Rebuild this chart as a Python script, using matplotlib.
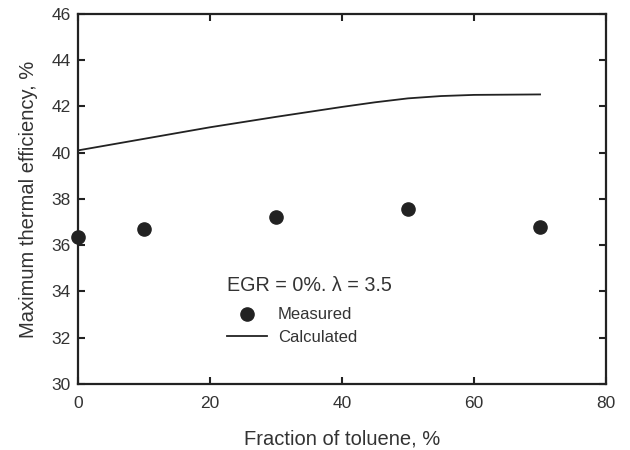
import matplotlib
matplotlib.use('Agg')
import matplotlib.pyplot as plt

plt.rcParams['font.family'] = ['Liberation Sans', 'DejaVu Sans']

# measured max thermal efficiency vs toluene fraction
toluene_meas = [0, 10, 30, 50, 70]
eff_meas = [36.35, 36.7, 37.22, 37.57, 36.8]

# calculated curve
toluene_calc = [0, 10, 20, 30, 40, 45, 50, 55, 60, 65, 70]
eff_calc = [40.1, 40.6, 41.1, 41.55, 41.98, 42.18, 42.35, 42.45, 42.5, 42.51, 42.52]

ink = '#222222'
txt = '#333333'

fig = plt.figure(figsize=(6.3, 4.5), dpi=100)
ax = fig.add_axes([0.1238, 0.1467, 0.8382, 0.8223])

ax.plot(toluene_calc, eff_calc, color=ink, lw=1.3, label='Calculated', zorder=3)
ax.plot(toluene_meas, eff_meas, 'o', color=ink, ms=9.5, label='Measured', clip_on=False, zorder=4)

ax.set_xlim(0, 80)
ax.set_ylim(30, 46)
ax.set_xticks([0, 20, 40, 60, 80])
ax.set_yticks([30, 32, 34, 36, 38, 40, 42, 44, 46])

for sp in ax.spines.values():
    sp.set_linewidth(1.6)
    sp.set_color(ink)
ax.tick_params(direction='in', top=True, right=True, length=5, width=1.5,
               color=ink, labelsize=12.5, labelcolor=txt)
ax.tick_params(axis='x', pad=9)
ax.tick_params(axis='y', pad=5)

ax.set_xlabel('Fraction of toluene, %', fontsize=14.5, color=txt, labelpad=13)
ax.set_ylabel('Maximum thermal efficiency, %', fontsize=14.5, color=txt, labelpad=10)

ax.text(22.6, 34.28, 'EGR = 0%. \u03bb = 3.5', fontsize=14.2, color=txt, va='center')

handles, labels = ax.get_legend_handles_labels()
leg = ax.legend(handles[::-1], labels[::-1], loc='upper left', bbox_to_anchor=(0.282, 0.207),
                frameon=False, fontsize=12, handlelength=2.4, handletextpad=0.66,
                labelspacing=0.45, borderpad=0, borderaxespad=0)
for t in leg.get_texts():
    t.set_color(txt)
leg.get_lines()[0].set_linewidth(1.8)

fig.savefig('out.png', dpi=100)
